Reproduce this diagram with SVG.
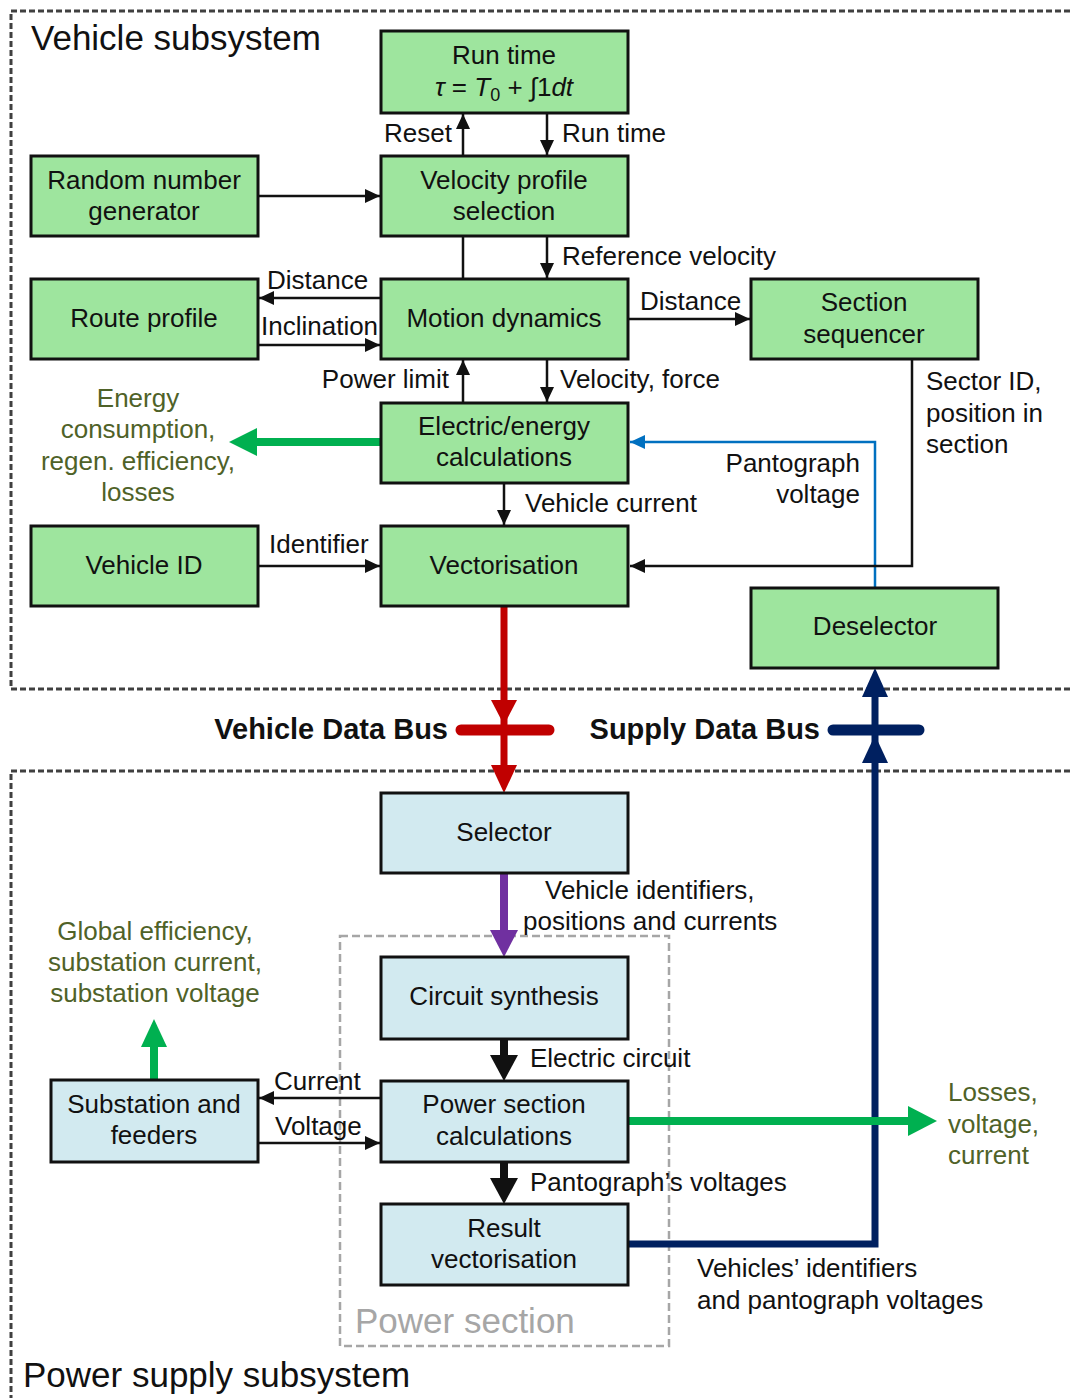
<svg xmlns="http://www.w3.org/2000/svg" width="1070" height="1398" viewBox="0 0 1070 1398">
<style>
text{font-family:"Liberation Sans",Arial,sans-serif;font-size:26px;fill:#111}
.c{text-anchor:middle}
.e{text-anchor:end}
.big{font-size:35px}
.bold{font-weight:bold;font-size:29px}
.ol{fill:#4F6228}
.g{fill:#A6A6A6}
.vn rect{fill:#9EE59E;stroke:#111;stroke-width:3}
.pn rect{fill:#D2EAF0;stroke:#111;stroke-width:3}
.thin{stroke:#111;stroke-width:2.5;fill:none}
.sub{stroke:#404040;stroke-width:3;stroke-dasharray:6 3;fill:none}
</style>
<defs>
<marker id="ab" markerUnits="userSpaceOnUse" markerWidth="16" markerHeight="16" refX="15" refY="8" orient="auto"><path d="M0,1 L15,8 L0,15 z" fill="#111"/></marker>
<marker id="abl" markerUnits="userSpaceOnUse" markerWidth="16" markerHeight="16" refX="15" refY="8" orient="auto"><path d="M0,1 L15,8 L0,15 z" fill="#0070C0"/></marker>
</defs>
<rect width="1070" height="1398" fill="#fff"/>
<g id="frames">
<path class="sub" d="M1070,11 H11 V689 H1070"/>
<path class="sub" d="M1070,771 H11 V1398"/>
<rect x="340" y="936" width="329" height="410" fill="none" stroke="#A6A6A6" stroke-width="2.5" stroke-dasharray="8 4"/>
<text x="31" y="50" class="big">Vehicle subsystem</text>
<text x="23" y="1387" class="big">Power supply subsystem</text>
<text x="355" y="1333" class="big g">Power section</text>
</g>
<g id="connectors">
<line class="thin" x1="463" y1="156" x2="463" y2="114" marker-end="url(#ab)"/>
<line class="thin" x1="463" y1="236" x2="463" y2="279"/>
<line class="thin" x1="547" y1="113" x2="547" y2="155" marker-end="url(#ab)"/>
<line class="thin" x1="258" y1="196" x2="380" y2="196" marker-end="url(#ab)"/>
<line class="thin" x1="547" y1="236" x2="547" y2="278" marker-end="url(#ab)"/>
<line class="thin" x1="381" y1="298" x2="259" y2="298" marker-end="url(#ab)"/>
<line class="thin" x1="258" y1="345" x2="380" y2="345" marker-end="url(#ab)"/>
<line class="thin" x1="628" y1="319" x2="750" y2="319" marker-end="url(#ab)"/>
<line class="thin" x1="463" y1="403" x2="463" y2="360" marker-end="url(#ab)"/>
<line class="thin" x1="547" y1="359" x2="547" y2="402" marker-end="url(#ab)"/>
<line x1="381" y1="442" x2="250" y2="442" stroke="#00B050" stroke-width="8"/>
<polygon points="229,442 257,428 257,456" fill="#00B050"/>
<path d="M875,588 V442 H630" fill="none" stroke="#0070C0" stroke-width="2.5" marker-end="url(#abl)"/>
<path class="thin" d="M912,359 V566 H630" marker-end="url(#ab)"/>
<line class="thin" x1="504" y1="483" x2="504" y2="525" marker-end="url(#ab)"/>
<line class="thin" x1="258" y1="566" x2="380" y2="566" marker-end="url(#ab)"/>
<line x1="461" y1="730" x2="549" y2="730" stroke="#C00000" stroke-width="11" stroke-linecap="round"/>
<line x1="504" y1="606" x2="504" y2="770" stroke="#C00000" stroke-width="7"/>
<polygon points="504,725 491,700 517,700" fill="#C00000"/>
<polygon points="504,793 491,765 517,765" fill="#C00000"/>
<line x1="833" y1="730" x2="919" y2="730" stroke="#002060" stroke-width="11" stroke-linecap="round"/>
<path d="M628,1244 H875 V690" fill="none" stroke="#002060" stroke-width="7"/>
<polygon points="875,668 862,697 888,697" fill="#002060"/>
<polygon points="875,735 862,763 888,763" fill="#002060"/>
<line x1="504" y1="873" x2="504" y2="935" stroke="#7030A0" stroke-width="8"/>
<polygon points="504,957 490,930 518,930" fill="#7030A0"/>
<line x1="504" y1="1039" x2="504" y2="1060" stroke="#111" stroke-width="8"/>
<polygon points="504,1081 490,1055 518,1055" fill="#111"/>
<line x1="504" y1="1162" x2="504" y2="1183" stroke="#111" stroke-width="8"/>
<polygon points="504,1204 490,1178 518,1178" fill="#111"/>
<line class="thin" x1="381" y1="1098" x2="259" y2="1098" marker-end="url(#ab)"/>
<line class="thin" x1="258" y1="1143" x2="380" y2="1143" marker-end="url(#ab)"/>
<line x1="154" y1="1080" x2="154" y2="1042" stroke="#00B050" stroke-width="8"/>
<polygon points="154,1019 141,1047 167,1047" fill="#00B050"/>
<line x1="628" y1="1121" x2="912" y2="1121" stroke="#00B050" stroke-width="8"/>
<polygon points="937,1121 908,1106 908,1136" fill="#00B050"/>
</g>
<g id="labels">
<text x="452" y="142" class="e">Reset</text>
<text x="562" y="142">Run time</text>
<text x="562" y="265">Reference velocity</text>
<text x="267" y="289">Distance</text>
<text x="261" y="335">Inclination</text>
<text x="640" y="310">Distance</text>
<text x="449" y="388" class="e">Power limit</text>
<text x="560" y="388">Velocity, force</text>
<text class="c ol" x="138" y="407">Energy</text>
<text class="c ol" x="138" y="438">consumption,</text>
<text class="c ol" x="138" y="470">regen. efficiency,</text>
<text class="c ol" x="138" y="501">losses</text>
<text x="860" y="472" class="e">Pantograph</text>
<text x="860" y="503" class="e">voltage</text>
<text x="926" y="390">Sector ID,</text>
<text x="926" y="422">position in</text>
<text x="926" y="453">section</text>
<text x="525" y="512">Vehicle current</text>
<text x="269" y="553">Identifier</text>
<text x="448" y="739" class="e bold">Vehicle Data Bus</text>
<text x="820" y="739" class="e bold">Supply Data Bus</text>
<text x="545" y="899">Vehicle identifiers,</text>
<text x="523" y="930">positions and currents</text>
<text class="c ol" x="155" y="940">Global efficiency,</text>
<text class="c ol" x="155" y="971">substation current,</text>
<text class="c ol" x="155" y="1002">substation voltage</text>
<text x="530" y="1067">Electric circuit</text>
<text x="274" y="1090">Current</text>
<text x="275" y="1135">Voltage</text>
<text class="ol" x="948" y="1101">Losses,</text>
<text class="ol" x="948" y="1133">voltage,</text>
<text class="ol" x="948" y="1164">current</text>
<text x="530" y="1191">Pantograph’s voltages</text>
<text x="697" y="1277">Vehicles’ identifiers</text>
<text x="697" y="1309">and pantograph voltages</text>
</g>
<g id="run-time" class="vn"><rect x="381" y="31" width="247" height="82"/>
<text class="c" x="504" y="64">Run time</text>
<text class="c" x="504" y="96"><tspan font-style="italic">τ</tspan> = <tspan font-style="italic">T</tspan><tspan font-size="18" dy="5">0</tspan><tspan dy="-5"> + ∫1</tspan><tspan font-style="italic">dt</tspan></text></g>
<g id="random-number-generator" class="vn"><rect x="31" y="156" width="227" height="80"/>
<text class="c" x="144" y="189">Random number</text><text class="c" x="144" y="220">generator</text></g>
<g id="velocity-profile-selection" class="vn"><rect x="381" y="156" width="247" height="80"/>
<text class="c" x="504" y="189">Velocity profile</text><text class="c" x="504" y="220">selection</text></g>
<g id="route-profile" class="vn"><rect x="31" y="279" width="227" height="80"/>
<text class="c" x="144" y="327">Route profile</text></g>
<g id="motion-dynamics" class="vn"><rect x="381" y="279" width="247" height="80"/>
<text class="c" x="504" y="327">Motion dynamics</text></g>
<g id="section-sequencer" class="vn"><rect x="751" y="279" width="227" height="80"/>
<text class="c" x="864" y="311">Section</text><text class="c" x="864" y="343">sequencer</text></g>
<g id="electric-energy-calculations" class="vn"><rect x="381" y="403" width="247" height="80"/>
<text class="c" x="504" y="435">Electric/energy</text><text class="c" x="504" y="466">calculations</text></g>
<g id="vehicle-id" class="vn"><rect x="31" y="526" width="227" height="80"/>
<text class="c" x="144" y="574">Vehicle ID</text></g>
<g id="vectorisation" class="vn"><rect x="381" y="526" width="247" height="80"/>
<text class="c" x="504" y="574">Vectorisation</text></g>
<g id="deselector" class="vn"><rect x="751" y="588" width="247" height="80"/>
<text class="c" x="875" y="635">Deselector</text></g>
<g id="selector" class="pn"><rect x="381" y="793" width="247" height="80"/>
<text class="c" x="504" y="841">Selector</text></g>
<g id="circuit-synthesis" class="pn"><rect x="381" y="957" width="247" height="82"/>
<text class="c" x="504" y="1005">Circuit synthesis</text></g>
<g id="power-section-calculations" class="pn"><rect x="381" y="1081" width="247" height="81"/>
<text class="c" x="504" y="1113">Power section</text><text class="c" x="504" y="1145">calculations</text></g>
<g id="result-vectorisation" class="pn"><rect x="381" y="1204" width="247" height="81"/>
<text class="c" x="504" y="1237">Result</text><text class="c" x="504" y="1268">vectorisation</text></g>
<g id="substation-and-feeders" class="pn"><rect x="51" y="1080" width="207" height="82"/>
<text class="c" x="154" y="1113">Substation and</text><text class="c" x="154" y="1144">feeders</text></g>
</svg>
